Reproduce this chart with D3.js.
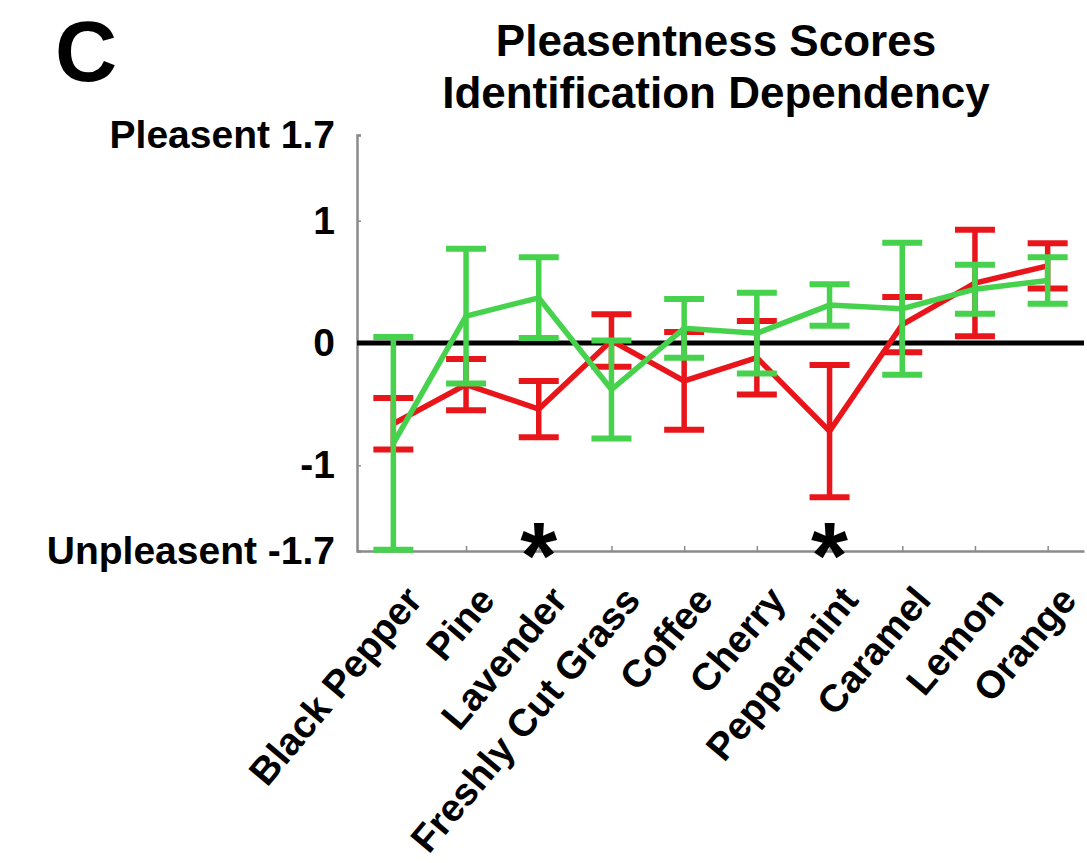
<!DOCTYPE html>
<html>
<head>
<meta charset="utf-8">
<script src="https://cdnjs.cloudflare.com/ajax/libs/d3/7.8.5/d3.min.js"></script>
<style>
  body { margin: 0; background: #fff; }
  svg { display: block; font-family: "Liberation Sans", Arial, sans-serif; font-weight: bold; }
</style>
</head>
<body>
<script>
// odor names along the x axis
const odors = ["Black Pepper", "Pine", "Lavender", "Freshly Cut Grass", "Coffee",
               "Cherry", "Peppermint", "Caramel", "Lemon", "Orange"];

// red series: mean and error
const redMean = [-0.66, -0.34, -0.54, 0.02, -0.31, -0.12, -0.72, 0.15, 0.49, 0.63];
const redErr  = [0.21, 0.21, 0.23, 0.215, 0.40, 0.30, 0.54, 0.225, 0.435, 0.185];

// green series: mean and error
const greenMean = [-0.82, 0.22, 0.37, -0.38, 0.12, 0.08, 0.31, 0.28, 0.44, 0.51];
const greenErr  = [0.87, 0.55, 0.33, 0.40, 0.24, 0.33, 0.17, 0.54, 0.20, 0.19];

// y ticks and their labels
const yTicks = [-1.7, -1, 0, 1, 1.7];
const yTickLabels = ["Unpleasent -1.7", "-1", "0", "1", "Pleasent 1.7"];

// odors marked as significant
const starred = ["Lavender", "Peppermint"];

const w = 1087;
const h = 863;
const plotLeft = 357, plotRight = 1084, plotTop = 135, plotBottom = 551;

const red = "#e8161b";
const green = "#46d24c";

const svg = d3.select("body")
              .append("svg")
              .attr("width", w)
              .attr("height", h);

const xScale = d3.scalePoint()
                 .domain(odors)
                 .range([plotLeft, plotRight])
                 .padding(0.5);

const yScale = d3.scaleLinear()
                 .domain([-1.7, 1.7])
                 .range([plotBottom, plotTop]);

// panel letter and title
svg.append("text")
   .attr("x", 55)
   .attr("y", 81)
   .style("font-size", "86px")
   .text("C");

svg.append("text")
   .attr("x", 716)
   .attr("y", 56)
   .attr("text-anchor", "middle")
   .style("font-size", "44px")
   .text("Pleasentness Scores");

svg.append("text")
   .attr("x", 716)
   .attr("y", 108)
   .attr("text-anchor", "middle")
   .style("font-size", "44px")
   .text("Identification Dependency");

// axes
const yAxis = d3.axisLeft(yScale)
                .tickValues(yTicks)
                .tickSize(-4)
                .tickPadding(22)
                .tickFormat((d, i) => yTickLabels[i]);

const gy = svg.append("g")
   .attr("transform", `translate(${plotLeft}, 0)`)
   .call(yAxis);

const xAxis = d3.axisBottom(xScale)
                .tickSize(-5)
                .tickSizeOuter(0);

const gx = svg.append("g")
   .attr("transform", `translate(0, ${plotBottom})`)
   .call(xAxis);

[gx, gy].forEach(g => {
    g.select(".domain").attr("stroke", "#8a8a8a").attr("stroke-width", 2.5);
    g.selectAll(".tick line").attr("stroke", "#8a8a8a").attr("stroke-width", 1.5);
    g.selectAll("text").attr("fill", "#000").style("font-family", "Liberation Sans, Arial, sans-serif");
});

gy.selectAll("text").style("font-size", "39px");

// rotated odor labels
gx.selectAll("text")
  .attr("y", 0)
  .attr("dy", 0)
  .attr("text-anchor", "end")
  .attr("transform", "translate(30, 50) rotate(-50)")
  .style("font-size", "38.5px");

// zero line
svg.append("line")
   .attr("x1", plotLeft)
   .attr("x2", plotRight)
   .attr("y1", yScale(0))
   .attr("y2", yScale(0))
   .attr("stroke", "#000")
   .attr("stroke-width", 5);

// draw one series: line plus error bars
function drawSeries(means, errs, color) {
    const g = svg.append("g");
    const line = d3.line()
                   .x((d, i) => xScale(odors[i]))
                   .y(d => yScale(d));

    g.append("path")
     .datum(means)
     .attr("d", line)
     .attr("fill", "none")
     .attr("stroke", color)
     .attr("stroke-width", 5.5);

    const cap = 20;
    const bars = g.selectAll(".bar")
                  .data(means)
                  .enter()
                  .append("g");

    bars.append("line")
        .attr("x1", (d, i) => xScale(odors[i]))
        .attr("x2", (d, i) => xScale(odors[i]))
        .attr("y1", (d, i) => yScale(d + errs[i]))
        .attr("y2", (d, i) => yScale(Math.max(d - errs[i], -1.7)))
        .attr("stroke", color)
        .attr("stroke-width", 5.5);

    [1, -1].forEach(s => {
        bars.append("line")
            .attr("x1", (d, i) => xScale(odors[i]) - cap)
            .attr("x2", (d, i) => xScale(odors[i]) + cap)
            .attr("y1", (d, i) => yScale(Math.max(d + s * errs[i], -1.7)))
            .attr("y2", (d, i) => yScale(Math.max(d + s * errs[i], -1.7)))
            .attr("stroke", color)
            .attr("stroke-width", 6);
    });
}

drawSeries(redMean, redErr, red);
drawSeries(greenMean, greenErr, green);

// significance stars
svg.selectAll(".star")
   .data(starred)
   .enter()
   .append("text")
   .attr("x", d => xScale(d))
   .attr("y", 588)
   .attr("text-anchor", "middle")
   .style("font-size", "95px")
   .text("*");
</script>
</body>
</html>
